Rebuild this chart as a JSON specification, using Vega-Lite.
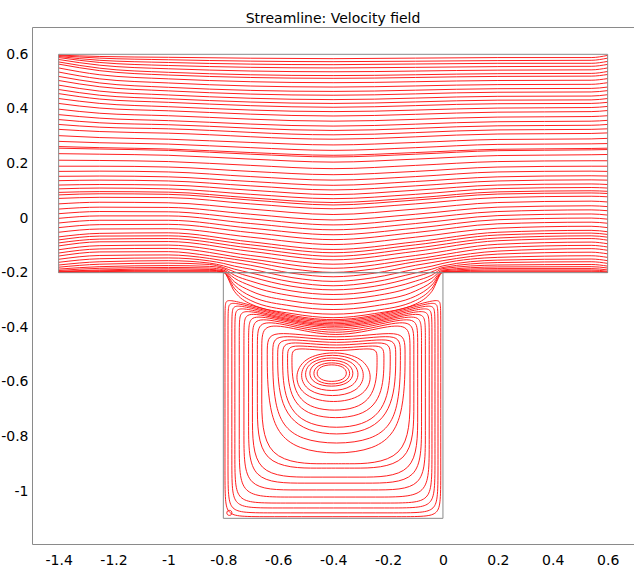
{
"$schema": "https://vega.github.io/schema/vega-lite/v6.json",
"width": 602, "height": 517,
"autosize": "none",
"padding": {"left": 32, "top": 27, "right": 0, "bottom": 26},
"background": "white",
"config": {"view": {"stroke": "#8a8a8a", "strokeWidth": 1}, "font": "DejaVu Sans"},
"title": {"text": "Streamline: Velocity field", "font": "DejaVu Sans", "fontSize": 14, "fontWeight": "normal", "color": "#000000", "anchor": "middle", "baseline": "alphabetic", "offset": 5, "dy": 15},
"datasets": {
"ch": [
{"s":1,"x":-1.4,"y":0.597},{"s":1,"x":-1.25,"y":0.592},{"s":1,"x":-1,"y":0.589},{"s":1,"x":-0.4,"y":0.584},{"s":1,"x":0.2,"y":0.588},{"s":1,"x":0.54,"y":0.588},{"s":1,"x":0.6,"y":0.596},
{"s":2,"x":-1.4,"y":0.595},{"s":2,"x":-1.25,"y":0.586},{"s":2,"x":-1,"y":0.58},{"s":2,"x":-0.4,"y":0.573},{"s":2,"x":0.2,"y":0.577},{"s":2,"x":0.54,"y":0.578},{"s":2,"x":0.6,"y":0.586},
{"s":3,"x":-1.4,"y":0.592},{"s":3,"x":-1.25,"y":0.578},{"s":3,"x":-1,"y":0.57},{"s":3,"x":-0.4,"y":0.562},{"s":3,"x":0.2,"y":0.567},{"s":3,"x":0.54,"y":0.567},{"s":3,"x":0.6,"y":0.574},
{"s":4,"x":-1.4,"y":0.588},{"s":4,"x":-1.25,"y":0.57},{"s":4,"x":-1,"y":0.559},{"s":4,"x":-0.4,"y":0.55},{"s":4,"x":0.2,"y":0.555},{"s":4,"x":0.54,"y":0.556},{"s":4,"x":0.6,"y":0.563},
{"s":5,"x":-1.4,"y":0.581},{"s":5,"x":-1.25,"y":0.56},{"s":5,"x":-1,"y":0.547},{"s":5,"x":-0.4,"y":0.536},{"s":5,"x":0.2,"y":0.542},{"s":5,"x":0.54,"y":0.543},{"s":5,"x":0.6,"y":0.55},
{"s":6,"x":-1.4,"y":0.572},{"s":6,"x":-1.25,"y":0.549},{"s":6,"x":-1,"y":0.534},{"s":6,"x":-0.4,"y":0.522},{"s":6,"x":0.2,"y":0.529},{"s":6,"x":0.54,"y":0.53},{"s":6,"x":0.6,"y":0.537},
{"s":7,"x":-1.4,"y":0.564},{"s":7,"x":-1.25,"y":0.54},{"s":7,"x":-1,"y":0.524},{"s":7,"x":-0.4,"y":0.512},{"s":7,"x":0.2,"y":0.519},{"s":7,"x":0.54,"y":0.52},{"s":7,"x":0.6,"y":0.526},
{"s":8,"x":-1.4,"y":0.55},{"s":8,"x":-1.25,"y":0.525},{"s":8,"x":-1,"y":0.51},{"s":8,"x":-0.4,"y":0.496},{"s":8,"x":0.2,"y":0.504},{"s":8,"x":0.54,"y":0.505},{"s":8,"x":0.6,"y":0.511},
{"s":9,"x":-1.4,"y":0.535},{"s":9,"x":-1.25,"y":0.51},{"s":9,"x":-1,"y":0.495},{"s":9,"x":-0.4,"y":0.48},{"s":9,"x":0.2,"y":0.489},{"s":9,"x":0.54,"y":0.49},{"s":9,"x":0.6,"y":0.496},
{"s":10,"x":-1.4,"y":0.519},{"s":10,"x":-1.25,"y":0.495},{"s":10,"x":-1,"y":0.479},{"s":10,"x":-0.4,"y":0.464},{"s":10,"x":0.2,"y":0.474},{"s":10,"x":0.54,"y":0.475},{"s":10,"x":0.6,"y":0.48},
{"s":11,"x":-1.4,"y":0.504},{"s":11,"x":-1.25,"y":0.481},{"s":11,"x":-1,"y":0.466},{"s":11,"x":-0.4,"y":0.45},{"s":11,"x":0.2,"y":0.461},{"s":11,"x":0.54,"y":0.462},{"s":11,"x":0.6,"y":0.467},
{"s":12,"x":-1.4,"y":0.487},{"s":12,"x":-1.25,"y":0.465},{"s":12,"x":-1,"y":0.451},{"s":12,"x":-0.4,"y":0.434},{"s":12,"x":0.2,"y":0.446},{"s":12,"x":0.54,"y":0.447},{"s":12,"x":0.6,"y":0.452},
{"s":13,"x":-1.4,"y":0.471},{"s":13,"x":-1.25,"y":0.45},{"s":13,"x":-1,"y":0.437},{"s":13,"x":-0.4,"y":0.42},{"s":13,"x":0.2,"y":0.432},{"s":13,"x":0.54,"y":0.433},{"s":13,"x":0.6,"y":0.438},
{"s":14,"x":-1.4,"y":0.456},{"s":14,"x":-1.25,"y":0.436},{"s":14,"x":-1,"y":0.424},{"s":14,"x":-0.4,"y":0.406},{"s":14,"x":0.2,"y":0.419},{"s":14,"x":0.54,"y":0.42},{"s":14,"x":0.6,"y":0.424},
{"s":15,"x":-1.4,"y":0.438},{"s":15,"x":-1.25,"y":0.42},{"s":15,"x":-1,"y":0.408},{"s":15,"x":-0.4,"y":0.39},{"s":15,"x":0.2,"y":0.403},{"s":15,"x":0.54,"y":0.405},{"s":15,"x":0.6,"y":0.409},
{"s":16,"x":-1.4,"y":0.42},{"s":16,"x":-1.25,"y":0.403},{"s":16,"x":-1,"y":0.393},{"s":16,"x":-0.4,"y":0.374},{"s":16,"x":0.2,"y":0.388},{"s":16,"x":0.54,"y":0.39},{"s":16,"x":0.6,"y":0.394},
{"s":17,"x":-1.4,"y":0.399},{"s":17,"x":-1.25,"y":0.384},{"s":17,"x":-1,"y":0.375},{"s":17,"x":-0.4,"y":0.355},{"s":17,"x":0.2,"y":0.37},{"s":17,"x":0.54,"y":0.372},{"s":17,"x":0.6,"y":0.375},
{"s":18,"x":-1.4,"y":0.379},{"s":18,"x":-1.25,"y":0.366},{"s":18,"x":-1,"y":0.357},{"s":18,"x":-0.4,"y":0.337},{"s":18,"x":0.2,"y":0.353},{"s":18,"x":0.54,"y":0.355},{"s":18,"x":0.6,"y":0.358},
{"s":19,"x":-1.4,"y":0.361},{"s":19,"x":-1.25,"y":0.349},{"s":19,"x":-1,"y":0.342},{"s":19,"x":-0.4,"y":0.321},{"s":19,"x":0.2,"y":0.338},{"s":19,"x":0.54,"y":0.34},{"s":19,"x":0.6,"y":0.343},
{"s":20,"x":-1.4,"y":0.343},{"s":20,"x":-1.25,"y":0.333},{"s":20,"x":-1,"y":0.327},{"s":20,"x":-0.4,"y":0.305},{"s":20,"x":0.2,"y":0.323},{"s":20,"x":0.54,"y":0.325},{"s":20,"x":0.6,"y":0.327},
{"s":21,"x":-1.4,"y":0.325},{"s":21,"x":-1.25,"y":0.317},{"s":21,"x":-1,"y":0.311},{"s":21,"x":-0.4,"y":0.289},{"s":21,"x":0.2,"y":0.308},{"s":21,"x":0.54,"y":0.31},{"s":21,"x":0.6,"y":0.312},
{"s":22,"x":-1.4,"y":0.302},{"s":22,"x":-1.25,"y":0.295},{"s":22,"x":-1,"y":0.289},{"s":22,"x":-0.7,"y":0.277},{"s":22,"x":-0.4,"y":0.268},{"s":22,"x":-0.1,"y":0.277},{"s":22,"x":0.2,"y":0.288},{"s":22,"x":0.54,"y":0.29},{"s":22,"x":0.6,"y":0.292},
{"s":23,"x":-1.4,"y":0.281},{"s":23,"x":-1.25,"y":0.276},{"s":23,"x":-1,"y":0.271},{"s":23,"x":-0.7,"y":0.258},{"s":23,"x":-0.4,"y":0.248},{"s":23,"x":-0.1,"y":0.258},{"s":23,"x":0.2,"y":0.27},{"s":23,"x":0.54,"y":0.272},{"s":23,"x":0.6,"y":0.273},
{"s":24,"x":-1.4,"y":0.262},{"s":24,"x":-1.25,"y":0.258},{"s":24,"x":-1,"y":0.253},{"s":24,"x":-0.7,"y":0.24},{"s":24,"x":-0.4,"y":0.23},{"s":24,"x":-0.1,"y":0.24},{"s":24,"x":0.2,"y":0.252},{"s":24,"x":0.54,"y":0.255},{"s":24,"x":0.6,"y":0.256},
{"s":25,"x":-1.4,"y":0.256},{"s":25,"x":-1.25,"y":0.253},{"s":25,"x":-1,"y":0.248},{"s":25,"x":-0.7,"y":0.234},{"s":25,"x":-0.4,"y":0.224},{"s":25,"x":-0.1,"y":0.234},{"s":25,"x":0.2,"y":0.247},{"s":25,"x":0.54,"y":0.25},{"s":25,"x":0.6,"y":0.251},
{"s":26,"x":-1.4,"y":0.236},{"s":26,"x":-1.25,"y":0.234},{"s":26,"x":-1,"y":0.23},{"s":26,"x":-0.7,"y":0.216},{"s":26,"x":-0.4,"y":0.205},{"s":26,"x":-0.1,"y":0.216},{"s":26,"x":0.2,"y":0.229},{"s":26,"x":0.54,"y":0.232},{"s":26,"x":0.6,"y":0.233},
{"s":27,"x":-1.4,"y":0.212},{"s":27,"x":-1.25,"y":0.211},{"s":27,"x":-1,"y":0.207},{"s":27,"x":-0.7,"y":0.193},{"s":27,"x":-0.4,"y":0.181},{"s":27,"x":-0.1,"y":0.193},{"s":27,"x":0.2,"y":0.207},{"s":27,"x":0.54,"y":0.21},{"s":27,"x":0.6,"y":0.21},
{"s":28,"x":-1.4,"y":0.19},{"s":28,"x":-1.25,"y":0.19},{"s":28,"x":-1,"y":0.187},{"s":28,"x":-0.7,"y":0.171},{"s":28,"x":-0.4,"y":0.159},{"s":28,"x":-0.1,"y":0.171},{"s":28,"x":0.2,"y":0.187},{"s":28,"x":0.54,"y":0.19},{"s":28,"x":0.6,"y":0.19},
{"s":29,"x":-1.4,"y":0.171},{"s":29,"x":-1.25,"y":0.172},{"s":29,"x":-1,"y":0.169},{"s":29,"x":-0.7,"y":0.152},{"s":29,"x":-0.4,"y":0.139},{"s":29,"x":-0.1,"y":0.152},{"s":29,"x":0.2,"y":0.169},{"s":29,"x":0.54,"y":0.172},{"s":29,"x":0.6,"y":0.171},
{"s":30,"x":-1.4,"y":0.153},{"s":30,"x":-1.25,"y":0.154},{"s":30,"x":-1,"y":0.151},{"s":30,"x":-0.7,"y":0.134},{"s":30,"x":-0.4,"y":0.12},{"s":30,"x":-0.1,"y":0.134},{"s":30,"x":0.2,"y":0.151},{"s":30,"x":0.54,"y":0.155},{"s":30,"x":0.6,"y":0.154},
{"s":31,"x":-1.4,"y":0.137},{"s":31,"x":-1.25,"y":0.139},{"s":31,"x":-1,"y":0.136},{"s":31,"x":-0.7,"y":0.118},{"s":31,"x":-0.4,"y":0.103},{"s":31,"x":-0.1,"y":0.118},{"s":31,"x":0.2,"y":0.136},{"s":31,"x":0.54,"y":0.14},{"s":31,"x":0.6,"y":0.139},
{"s":32,"x":-1.4,"y":0.121},{"s":32,"x":-1.25,"y":0.123},{"s":32,"x":-1,"y":0.121},{"s":32,"x":-0.7,"y":0.102},{"s":32,"x":-0.4,"y":0.086},{"s":32,"x":-0.1,"y":0.102},{"s":32,"x":0.2,"y":0.121},{"s":32,"x":0.54,"y":0.125},{"s":32,"x":0.6,"y":0.123},
{"s":33,"x":-1.4,"y":0.107},{"s":33,"x":-1.25,"y":0.11},{"s":33,"x":-1,"y":0.107},{"s":33,"x":-0.7,"y":0.087},{"s":33,"x":-0.4,"y":0.071},{"s":33,"x":-0.1,"y":0.087},{"s":33,"x":0.2,"y":0.108},{"s":33,"x":0.54,"y":0.112},{"s":33,"x":0.6,"y":0.11},
{"s":34,"x":-1.4,"y":0.094},{"s":34,"x":-1.25,"y":0.097},{"s":34,"x":-1,"y":0.095},{"s":34,"x":-0.7,"y":0.074},{"s":34,"x":-0.4,"y":0.057},{"s":34,"x":-0.1,"y":0.074},{"s":34,"x":0.2,"y":0.096},{"s":34,"x":0.54,"y":0.1},{"s":34,"x":0.6,"y":0.098},
{"s":35,"x":-1.4,"y":0.085},{"s":35,"x":-1.25,"y":0.089},{"s":35,"x":-1,"y":0.087},{"s":35,"x":-0.7,"y":0.066},{"s":35,"x":-0.4,"y":0.048},{"s":35,"x":-0.1,"y":0.066},{"s":35,"x":0.2,"y":0.088},{"s":35,"x":0.54,"y":0.092},{"s":35,"x":0.6,"y":0.09},
{"s":36,"x":-1.4,"y":0.072},{"s":36,"x":-1.25,"y":0.076},{"s":36,"x":-1,"y":0.075},{"s":36,"x":-0.7,"y":0.052},{"s":36,"x":-0.4,"y":0.034},{"s":36,"x":-0.1,"y":0.052},{"s":36,"x":0.2,"y":0.075},{"s":36,"x":0.54,"y":0.08},{"s":36,"x":0.6,"y":0.078},
{"s":37,"x":-1.4,"y":0.052},{"s":37,"x":-1.25,"y":0.058},{"s":37,"x":-1,"y":0.056},{"s":37,"x":-0.7,"y":0.033},{"s":37,"x":-0.4,"y":0.013},{"s":37,"x":-0.1,"y":0.033},{"s":37,"x":0.2,"y":0.057},{"s":37,"x":0.54,"y":0.062},{"s":37,"x":0.6,"y":0.059},
{"s":38,"x":-1.4,"y":0.033},{"s":38,"x":-1.25,"y":0.04},{"s":38,"x":-1,"y":0.039},{"s":38,"x":-0.7,"y":0.014},{"s":38,"x":-0.4,"y":-0.007},{"s":38,"x":-0.1,"y":0.014},{"s":38,"x":0.2,"y":0.04},{"s":38,"x":0.54,"y":0.045},{"s":38,"x":0.6,"y":0.042},
{"s":39,"x":-1.4,"y":0.016},{"s":39,"x":-1.25,"y":0.024},{"s":39,"x":-1,"y":0.023},{"s":39,"x":-0.7,"y":-0.003},{"s":39,"x":-0.4,"y":-0.025},{"s":39,"x":-0.1,"y":-0.003},{"s":39,"x":0.2,"y":0.024},{"s":39,"x":0.54,"y":0.03},{"s":39,"x":0.6,"y":0.027},
{"s":40,"x":-1.4,"y":-0.001},{"s":40,"x":-1.25,"y":0.008},{"s":40,"x":-1,"y":0.008},{"s":40,"x":-0.7,"y":-0.02},{"s":40,"x":-0.4,"y":-0.043},{"s":40,"x":-0.1,"y":-0.02},{"s":40,"x":0.2,"y":0.009},{"s":40,"x":0.54,"y":0.015},{"s":40,"x":0.6,"y":0.011},
{"s":41,"x":-1.4,"y":-0.018},{"s":41,"x":-1.25,"y":-0.008},{"s":41,"x":-1,"y":-0.008},{"s":41,"x":-0.7,"y":-0.037},{"s":41,"x":-0.4,"y":-0.061},{"s":41,"x":-0.1,"y":-0.037},{"s":41,"x":0.2,"y":-0.006},{"s":41,"x":0.54,"y":0},{"s":41,"x":0.6,"y":-0.004},
{"s":42,"x":-1.4,"y":-0.035},{"s":42,"x":-1.25,"y":-0.024},{"s":42,"x":-1,"y":-0.023},{"s":42,"x":-0.7,"y":-0.053},{"s":42,"x":-0.4,"y":-0.079},{"s":42,"x":-0.1,"y":-0.053},{"s":42,"x":0.2,"y":-0.021},{"s":42,"x":0.54,"y":-0.015},{"s":42,"x":0.6,"y":-0.019},
{"s":43,"x":-1.4,"y":-0.052},{"s":43,"x":-1.25,"y":-0.04},{"s":43,"x":-1,"y":-0.039},{"s":43,"x":-0.7,"y":-0.07},{"s":43,"x":-0.4,"y":-0.097},{"s":43,"x":-0.1,"y":-0.07},{"s":43,"x":0.2,"y":-0.037},{"s":43,"x":0.54,"y":-0.03},{"s":43,"x":0.6,"y":-0.035},
{"s":44,"x":-1.4,"y":-0.069},{"s":44,"x":-1.25,"y":-0.056},{"s":44,"x":-1,"y":-0.054},{"s":44,"x":-0.7,"y":-0.087},{"s":44,"x":-0.4,"y":-0.115},{"s":44,"x":-0.1,"y":-0.087},{"s":44,"x":0.2,"y":-0.052},{"s":44,"x":0.54,"y":-0.045},{"s":44,"x":0.6,"y":-0.05},
{"s":45,"x":-1.4,"y":-0.08},{"s":45,"x":-1.25,"y":-0.066},{"s":45,"x":-1,"y":-0.065},{"s":45,"x":-0.7,"y":-0.098},{"s":45,"x":-0.4,"y":-0.127},{"s":45,"x":-0.1,"y":-0.098},{"s":45,"x":0.2,"y":-0.062},{"s":45,"x":0.54,"y":-0.055},{"s":45,"x":0.6,"y":-0.06},
{"s":46,"x":-1.4,"y":-0.091},{"s":46,"x":-1.25,"y":-0.077},{"s":46,"x":-1,"y":-0.075},{"s":46,"x":-0.7,"y":-0.11},{"s":46,"x":-0.4,"y":-0.14},{"s":46,"x":-0.1,"y":-0.11},{"s":46,"x":0.2,"y":-0.073},{"s":46,"x":0.54,"y":-0.065},{"s":46,"x":0.6,"y":-0.07},
{"s":47,"x":-1.4,"y":-0.102},{"s":47,"x":-1.25,"y":-0.087},{"s":47,"x":-1,"y":-0.086},{"s":47,"x":-0.7,"y":-0.122},{"s":47,"x":-0.4,"y":-0.153},{"s":47,"x":-0.1,"y":-0.122},{"s":47,"x":0.2,"y":-0.083},{"s":47,"x":0.54,"y":-0.075},{"s":47,"x":0.6,"y":-0.081},
{"s":48,"x":-1.4,"y":-0.116},{"s":48,"x":-1.25,"y":-0.101},{"s":48,"x":-1,"y":-0.099},{"s":48,"x":-0.7,"y":-0.137},{"s":48,"x":-0.4,"y":-0.169},{"s":48,"x":-0.1,"y":-0.137},{"s":48,"x":0.2,"y":-0.096},{"s":48,"x":0.54,"y":-0.088},{"s":48,"x":0.6,"y":-0.094},
{"s":49,"x":-1.4,"y":-0.128},{"s":49,"x":-1.25,"y":-0.113},{"s":49,"x":-1,"y":-0.111},{"s":49,"x":-0.7,"y":-0.15},{"s":49,"x":-0.4,"y":-0.184},{"s":49,"x":-0.1,"y":-0.15},{"s":49,"x":0.2,"y":-0.108},{"s":49,"x":0.54,"y":-0.1},{"s":49,"x":0.6,"y":-0.106},
{"s":50,"x":-1.4,"y":-0.139},{"s":50,"x":-1.25,"y":-0.124},{"s":50,"x":-1,"y":-0.123},{"s":50,"x":-0.85,"y":-0.138},{"s":50,"x":-0.8,"y":-0.145},{"s":50,"x":-0.76,"y":-0.151},{"s":50,"x":-0.7,"y":-0.16},{"s":50,"x":-0.55,"y":-0.186},{"s":50,"x":-0.4,"y":-0.199},{"s":50,"x":-0.25,"y":-0.186},{"s":50,"x":-0.1,"y":-0.16},{"s":50,"x":-0.04,"y":-0.151},{"s":50,"x":0,"y":-0.145},{"s":50,"x":0.2,"y":-0.121},{"s":50,"x":0.54,"y":-0.112},{"s":50,"x":0.6,"y":-0.118},
{"s":51,"x":-1.4,"y":-0.151},{"s":51,"x":-1.25,"y":-0.137},{"s":51,"x":-1,"y":-0.135},{"s":51,"x":-0.85,"y":-0.148},{"s":51,"x":-0.8,"y":-0.156},{"s":51,"x":-0.76,"y":-0.163},{"s":51,"x":-0.7,"y":-0.173},{"s":51,"x":-0.55,"y":-0.202},{"s":51,"x":-0.4,"y":-0.215},{"s":51,"x":-0.25,"y":-0.202},{"s":51,"x":-0.1,"y":-0.173},{"s":51,"x":-0.04,"y":-0.163},{"s":51,"x":0,"y":-0.156},{"s":51,"x":0.2,"y":-0.132},{"s":51,"x":0.54,"y":-0.125},{"s":51,"x":0.6,"y":-0.131},
{"s":52,"x":-1.4,"y":-0.162},{"s":52,"x":-1.25,"y":-0.149},{"s":52,"x":-1,"y":-0.146},{"s":52,"x":-0.85,"y":-0.157},{"s":52,"x":-0.8,"y":-0.166},{"s":52,"x":-0.76,"y":-0.176},{"s":52,"x":-0.7,"y":-0.187},{"s":52,"x":-0.55,"y":-0.218},{"s":52,"x":-0.4,"y":-0.232},{"s":52,"x":-0.25,"y":-0.218},{"s":52,"x":-0.1,"y":-0.187},{"s":52,"x":-0.04,"y":-0.176},{"s":52,"x":0,"y":-0.166},{"s":52,"x":0.2,"y":-0.144},{"s":52,"x":0.54,"y":-0.138},{"s":52,"x":0.6,"y":-0.144},
{"s":53,"x":-1.4,"y":-0.172},{"s":53,"x":-1.25,"y":-0.16},{"s":53,"x":-1,"y":-0.156},{"s":53,"x":-0.85,"y":-0.165},{"s":53,"x":-0.8,"y":-0.175},{"s":53,"x":-0.76,"y":-0.187},{"s":53,"x":-0.7,"y":-0.201},{"s":53,"x":-0.55,"y":-0.234},{"s":53,"x":-0.4,"y":-0.248},{"s":53,"x":-0.25,"y":-0.234},{"s":53,"x":-0.1,"y":-0.201},{"s":53,"x":-0.04,"y":-0.187},{"s":53,"x":0,"y":-0.175},{"s":53,"x":0.2,"y":-0.154},{"s":53,"x":0.54,"y":-0.15},{"s":53,"x":0.6,"y":-0.156},
{"s":54,"x":-1.4,"y":-0.18},{"s":54,"x":-1.25,"y":-0.169},{"s":54,"x":-1,"y":-0.165},{"s":54,"x":-0.85,"y":-0.17},{"s":54,"x":-0.8,"y":-0.181},{"s":54,"x":-0.76,"y":-0.197},{"s":54,"x":-0.7,"y":-0.215},{"s":54,"x":-0.55,"y":-0.25},{"s":54,"x":-0.4,"y":-0.263},{"s":54,"x":-0.25,"y":-0.25},{"s":54,"x":-0.1,"y":-0.215},{"s":54,"x":-0.04,"y":-0.197},{"s":54,"x":0,"y":-0.181},{"s":54,"x":0.2,"y":-0.163},{"s":54,"x":0.54,"y":-0.16},{"s":54,"x":0.6,"y":-0.166},
{"s":55,"x":-1.4,"y":-0.187},{"s":55,"x":-1.25,"y":-0.178},{"s":55,"x":-1,"y":-0.174},{"s":55,"x":-0.85,"y":-0.177},{"s":55,"x":-0.8,"y":-0.185},{"s":55,"x":-0.76,"y":-0.209},{"s":55,"x":-0.7,"y":-0.231},{"s":55,"x":-0.55,"y":-0.267},{"s":55,"x":-0.4,"y":-0.28},{"s":55,"x":-0.25,"y":-0.267},{"s":55,"x":-0.1,"y":-0.231},{"s":55,"x":-0.04,"y":-0.209},{"s":55,"x":0,"y":-0.185},{"s":55,"x":0.2,"y":-0.172},{"s":55,"x":0.54,"y":-0.17},{"s":55,"x":0.6,"y":-0.176},
{"s":56,"x":-1.4,"y":-0.192},{"s":56,"x":-1.25,"y":-0.184},{"s":56,"x":-1,"y":-0.181},{"s":56,"x":-0.85,"y":-0.183},{"s":56,"x":-0.8,"y":-0.19},{"s":56,"x":-0.76,"y":-0.22},{"s":56,"x":-0.7,"y":-0.248},{"s":56,"x":-0.55,"y":-0.285},{"s":56,"x":-0.4,"y":-0.298},{"s":56,"x":-0.25,"y":-0.285},{"s":56,"x":-0.1,"y":-0.248},{"s":56,"x":-0.04,"y":-0.22},{"s":56,"x":0,"y":-0.19},{"s":56,"x":0.2,"y":-0.179},{"s":56,"x":0.54,"y":-0.178},{"s":56,"x":0.6,"y":-0.183},
{"s":57,"x":-1.4,"y":-0.195},{"s":57,"x":-1.25,"y":-0.19},{"s":57,"x":-1,"y":-0.186},{"s":57,"x":-0.85,"y":-0.188},{"s":57,"x":-0.8,"y":-0.193},{"s":57,"x":-0.76,"y":-0.233},{"s":57,"x":-0.7,"y":-0.267},{"s":57,"x":-0.55,"y":-0.304},{"s":57,"x":-0.4,"y":-0.317},{"s":57,"x":-0.25,"y":-0.304},{"s":57,"x":-0.1,"y":-0.267},{"s":57,"x":-0.04,"y":-0.233},{"s":57,"x":0,"y":-0.193},{"s":57,"x":0.2,"y":-0.185},{"s":57,"x":0.54,"y":-0.185},{"s":57,"x":0.6,"y":-0.19},
{"s":58,"x":-1.4,"y":-0.197},{"s":58,"x":-1.25,"y":-0.193},{"s":58,"x":-1,"y":-0.191},{"s":58,"x":-0.85,"y":-0.191},{"s":58,"x":-0.8,"y":-0.196},{"s":58,"x":-0.76,"y":-0.245},{"s":58,"x":-0.7,"y":-0.286},{"s":58,"x":-0.55,"y":-0.322},{"s":58,"x":-0.4,"y":-0.335},{"s":58,"x":-0.25,"y":-0.322},{"s":58,"x":-0.1,"y":-0.286},{"s":58,"x":-0.04,"y":-0.245},{"s":58,"x":0,"y":-0.196},{"s":58,"x":0.2,"y":-0.19},{"s":58,"x":0.54,"y":-0.19},{"s":58,"x":0.6,"y":-0.195},
{"s":59,"x":-1.4,"y":-0.198},{"s":59,"x":-1.25,"y":-0.196},{"s":59,"x":-1,"y":-0.194},{"s":59,"x":-0.85,"y":-0.194},{"s":59,"x":-0.8,"y":-0.197},{"s":59,"x":-0.76,"y":-0.257},{"s":59,"x":-0.7,"y":-0.302},{"s":59,"x":-0.55,"y":-0.339},{"s":59,"x":-0.4,"y":-0.352},{"s":59,"x":-0.25,"y":-0.339},{"s":59,"x":-0.1,"y":-0.302},{"s":59,"x":-0.04,"y":-0.257},{"s":59,"x":0,"y":-0.197},{"s":59,"x":0.2,"y":-0.194},{"s":59,"x":0.54,"y":-0.194},{"s":59,"x":0.6,"y":-0.198},
{"s":60,"x":-1.4,"y":-0.199},{"s":60,"x":-1.25,"y":-0.198},{"s":60,"x":-1,"y":-0.197},{"s":60,"x":-0.85,"y":-0.197},{"s":60,"x":-0.8,"y":-0.199},{"s":60,"x":-0.76,"y":-0.268},{"s":60,"x":-0.7,"y":-0.315},{"s":60,"x":-0.55,"y":-0.35},{"s":60,"x":-0.4,"y":-0.365},{"s":60,"x":-0.25,"y":-0.35},{"s":60,"x":-0.1,"y":-0.315},{"s":60,"x":-0.04,"y":-0.268},{"s":60,"x":0,"y":-0.199},{"s":60,"x":0.2,"y":-0.197},{"s":60,"x":0.54,"y":-0.197},{"s":60,"x":0.6,"y":-0.199}
],
"cv": [
{"s":1,"i":1,"x":-0.401,"y":-0.408},{"s":1,"i":2,"x":-0.759,"y":-0.3},{"s":1,"i":3,"x":-0.794,"y":-0.3},{"s":1,"i":4,"x":-0.794,"y":-0.335},{"s":1,"i":5,"x":-0.794,"y":-0.994},{"s":1,"i":6,"x":-0.794,"y":-1.094},{"s":1,"i":7,"x":-0.694,"y":-1.094},{"s":1,"i":8,"x":-0.108,"y":-1.094},{"s":1,"i":9,"x":-0.008,"y":-1.094},{"s":1,"i":10,"x":-0.008,"y":-0.994},{"s":1,"i":11,"x":-0.008,"y":-0.335},{"s":1,"i":12,"x":-0.008,"y":-0.3},{"s":1,"i":13,"x":-0.043,"y":-0.3},
{"s":2,"i":1,"x":-0.4,"y":-0.41},{"s":2,"i":2,"x":-0.743,"y":-0.31},{"s":2,"i":3,"x":-0.783,"y":-0.31},{"s":2,"i":4,"x":-0.783,"y":-0.35},{"s":2,"i":5,"x":-0.783,"y":-0.97},{"s":2,"i":6,"x":-0.783,"y":-1.08},{"s":2,"i":7,"x":-0.673,"y":-1.08},{"s":2,"i":8,"x":-0.128,"y":-1.08},{"s":2,"i":9,"x":-0.018,"y":-1.08},{"s":2,"i":10,"x":-0.018,"y":-0.97},{"s":2,"i":11,"x":-0.018,"y":-0.35},{"s":2,"i":12,"x":-0.018,"y":-0.31},{"s":2,"i":13,"x":-0.058,"y":-0.31},
{"s":3,"i":1,"x":-0.399,"y":-0.413},{"s":3,"i":2,"x":-0.724,"y":-0.32},{"s":3,"i":3,"x":-0.769,"y":-0.32},{"s":3,"i":4,"x":-0.769,"y":-0.365},{"s":3,"i":5,"x":-0.769,"y":-0.942},{"s":3,"i":6,"x":-0.769,"y":-1.062},{"s":3,"i":7,"x":-0.649,"y":-1.062},{"s":3,"i":8,"x":-0.149,"y":-1.062},{"s":3,"i":9,"x":-0.029,"y":-1.062},{"s":3,"i":10,"x":-0.029,"y":-0.942},{"s":3,"i":11,"x":-0.029,"y":-0.365},{"s":3,"i":12,"x":-0.029,"y":-0.32},{"s":3,"i":13,"x":-0.074,"y":-0.32},
{"s":4,"i":1,"x":-0.399,"y":-0.416},{"s":4,"i":2,"x":-0.708,"y":-0.33},{"s":4,"i":3,"x":-0.758,"y":-0.33},{"s":4,"i":4,"x":-0.758,"y":-0.38},{"s":4,"i":5,"x":-0.758,"y":-0.914},{"s":4,"i":6,"x":-0.758,"y":-1.044},{"s":4,"i":7,"x":-0.628,"y":-1.044},{"s":4,"i":8,"x":-0.17,"y":-1.044},{"s":4,"i":9,"x":-0.04,"y":-1.044},{"s":4,"i":10,"x":-0.04,"y":-0.914},{"s":4,"i":11,"x":-0.04,"y":-0.38},{"s":4,"i":12,"x":-0.04,"y":-0.33},{"s":4,"i":13,"x":-0.09,"y":-0.33},
{"s":5,"i":1,"x":-0.396,"y":-0.418},{"s":5,"i":2,"x":-0.687,"y":-0.34},{"s":5,"i":3,"x":-0.742,"y":-0.34},{"s":5,"i":4,"x":-0.742,"y":-0.395},{"s":5,"i":5,"x":-0.742,"y":-0.862},{"s":5,"i":6,"x":-0.742,"y":-1.022},{"s":5,"i":7,"x":-0.582,"y":-1.022},{"s":5,"i":8,"x":-0.21,"y":-1.022},{"s":5,"i":9,"x":-0.05,"y":-1.022},{"s":5,"i":10,"x":-0.05,"y":-0.862},{"s":5,"i":11,"x":-0.05,"y":-0.395},{"s":5,"i":12,"x":-0.05,"y":-0.34},{"s":5,"i":13,"x":-0.105,"y":-0.34},
{"s":6,"i":1,"x":-0.395,"y":-0.42},{"s":6,"i":2,"x":-0.665,"y":-0.35},{"s":6,"i":3,"x":-0.725,"y":-0.35},{"s":6,"i":4,"x":-0.725,"y":-0.41},{"s":6,"i":5,"x":-0.725,"y":-0.816},{"s":6,"i":6,"x":-0.725,"y":-0.996},{"s":6,"i":7,"x":-0.545,"y":-0.996},{"s":6,"i":8,"x":-0.244,"y":-0.996},{"s":6,"i":9,"x":-0.064,"y":-0.996},{"s":6,"i":10,"x":-0.064,"y":-0.816},{"s":6,"i":11,"x":-0.064,"y":-0.41},{"s":6,"i":12,"x":-0.064,"y":-0.35},{"s":6,"i":13,"x":-0.124,"y":-0.35},
{"s":7,"i":1,"x":-0.393,"y":-0.424},{"s":7,"i":2,"x":-0.643,"y":-0.36},{"s":7,"i":3,"x":-0.708,"y":-0.36},{"s":7,"i":4,"x":-0.708,"y":-0.425},{"s":7,"i":5,"x":-0.708,"y":-0.771},{"s":7,"i":6,"x":-0.708,"y":-0.971},{"s":7,"i":7,"x":-0.508,"y":-0.971},{"s":7,"i":8,"x":-0.278,"y":-0.971},{"s":7,"i":9,"x":-0.078,"y":-0.971},{"s":7,"i":10,"x":-0.078,"y":-0.771},{"s":7,"i":11,"x":-0.078,"y":-0.425},{"s":7,"i":12,"x":-0.078,"y":-0.36},{"s":7,"i":13,"x":-0.143,"y":-0.36},
{"s":8,"i":1,"x":-0.393,"y":-0.43},{"s":8,"i":2,"x":-0.624,"y":-0.37},{"s":8,"i":3,"x":-0.694,"y":-0.37},{"s":8,"i":4,"x":-0.694,"y":-0.44},{"s":8,"i":5,"x":-0.694,"y":-0.729},{"s":8,"i":6,"x":-0.694,"y":-0.949},{"s":8,"i":7,"x":-0.474,"y":-0.949},{"s":8,"i":8,"x":-0.312,"y":-0.949},{"s":8,"i":9,"x":-0.092,"y":-0.949},{"s":8,"i":10,"x":-0.092,"y":-0.729},{"s":8,"i":11,"x":-0.092,"y":-0.44},{"s":8,"i":12,"x":-0.092,"y":-0.37},{"s":8,"i":13,"x":-0.162,"y":-0.37},
{"s":9,"i":1,"x":-0.391,"y":-0.437},{"s":9,"i":2,"x":-0.601,"y":-0.381},{"s":9,"i":3,"x":-0.676,"y":-0.381},{"s":9,"i":4,"x":-0.676,"y":-0.456},{"s":9,"i":5,"x":-0.676,"y":-0.676},{"s":9,"i":6,"x":-0.676,"y":-0.916},{"s":9,"i":7,"x":-0.436,"y":-0.916},{"s":9,"i":8,"x":-0.346,"y":-0.916},{"s":9,"i":9,"x":-0.106,"y":-0.916},{"s":9,"i":10,"x":-0.106,"y":-0.676},{"s":9,"i":11,"x":-0.106,"y":-0.456},{"s":9,"i":12,"x":-0.106,"y":-0.381},{"s":9,"i":13,"x":-0.181,"y":-0.381},
{"s":10,"i":1,"x":-0.39,"y":-0.443},{"s":10,"i":2,"x":-0.58,"y":-0.393},{"s":10,"i":3,"x":-0.66,"y":-0.393},{"s":10,"i":4,"x":-0.66,"y":-0.473},{"s":10,"i":5,"x":-0.66,"y":-0.64},{"s":10,"i":6,"x":-0.66,"y":-0.9},{"s":10,"i":7,"x":-0.4,"y":-0.9},{"s":10,"i":8,"x":-0.38,"y":-0.9},{"s":10,"i":9,"x":-0.12,"y":-0.9},{"s":10,"i":10,"x":-0.12,"y":-0.64},{"s":10,"i":11,"x":-0.12,"y":-0.473},{"s":10,"i":12,"x":-0.12,"y":-0.393},{"s":10,"i":13,"x":-0.2,"y":-0.393},
{"s":11,"i":1,"x":-0.389,"y":-0.45},{"s":11,"i":2,"x":-0.64,"y":-0.405},{"s":11,"i":3,"x":-0.64,"y":-0.473},{"s":11,"i":4,"x":-0.64,"y":-0.707},{"s":11,"i":5,"x":-0.565,"y":-0.867},{"s":11,"i":6,"x":-0.213,"y":-0.867},{"s":11,"i":7,"x":-0.138,"y":-0.707},{"s":11,"i":8,"x":-0.138,"y":-0.473},{"s":11,"i":9,"x":-0.138,"y":-0.405},
{"s":12,"i":1,"x":-0.388,"y":-0.459},{"s":12,"i":2,"x":-0.62,"y":-0.418},{"s":12,"i":3,"x":-0.62,"y":-0.479},{"s":12,"i":4,"x":-0.62,"y":-0.688},{"s":12,"i":5,"x":-0.55,"y":-0.83},{"s":12,"i":6,"x":-0.225,"y":-0.83},{"s":12,"i":7,"x":-0.155,"y":-0.688},{"s":12,"i":8,"x":-0.155,"y":-0.479},{"s":12,"i":9,"x":-0.155,"y":-0.418},
{"s":13,"i":1,"x":-0.387,"y":-0.467},{"s":13,"i":2,"x":-0.602,"y":-0.432},{"s":13,"i":3,"x":-0.602,"y":-0.486},{"s":13,"i":4,"x":-0.602,"y":-0.671},{"s":13,"i":5,"x":-0.516,"y":-0.796},{"s":13,"i":6,"x":-0.258,"y":-0.796},{"s":13,"i":7,"x":-0.172,"y":-0.671},{"s":13,"i":8,"x":-0.172,"y":-0.486},{"s":13,"i":9,"x":-0.172,"y":-0.432},
{"s":14,"i":1,"x":-0.388,"y":-0.475},{"s":14,"i":2,"x":-0.584,"y":-0.445},{"s":14,"i":3,"x":-0.584,"y":-0.493},{"s":14,"i":4,"x":-0.584,"y":-0.659},{"s":14,"i":5,"x":-0.506,"y":-0.771},{"s":14,"i":6,"x":-0.27,"y":-0.771},{"s":14,"i":7,"x":-0.192,"y":-0.659},{"s":14,"i":8,"x":-0.192,"y":-0.493},{"s":14,"i":9,"x":-0.192,"y":-0.445},
{"s":15,"i":1,"x":-0.39,"y":-0.484},{"s":15,"i":2,"x":-0.566,"y":-0.458},{"s":15,"i":3,"x":-0.566,"y":-0.499},{"s":15,"i":4,"x":-0.566,"y":-0.64},{"s":15,"i":5,"x":-0.496,"y":-0.735},{"s":15,"i":6,"x":-0.285,"y":-0.735},{"s":15,"i":7,"x":-0.215,"y":-0.64},{"s":15,"i":8,"x":-0.215,"y":-0.499},{"s":15,"i":9,"x":-0.215,"y":-0.458},
{"s":16,"i":1,"x":-0.395,"y":-0.493},{"s":16,"i":2,"x":-0.55,"y":-0.47},{"s":16,"i":3,"x":-0.55,"y":-0.505},{"s":16,"i":4,"x":-0.55,"y":-0.625},{"s":16,"i":5,"x":-0.488,"y":-0.707},{"s":16,"i":6,"x":-0.302,"y":-0.707},{"s":16,"i":7,"x":-0.24,"y":-0.625},{"s":16,"i":8,"x":-0.24,"y":-0.505},{"s":16,"i":9,"x":-0.24,"y":-0.47},
{"s":17,"i":1,"x":-0.544,"y":-0.486},{"s":17,"i":2,"x":-0.253,"y":-0.486},{"s":17,"i":3,"x":-0.253,"y":-0.68},{"s":17,"i":4,"x":-0.544,"y":-0.68},
{"s":18,"i":1,"x":-0.525,"y":-0.496},{"s":18,"i":2,"x":-0.28,"y":-0.496},{"s":18,"i":3,"x":-0.28,"y":-0.657},{"s":18,"i":4,"x":-0.525,"y":-0.657},
{"s":19,"i":1,"x":-0.509,"y":-0.507},{"s":19,"i":2,"x":-0.301,"y":-0.507},{"s":19,"i":3,"x":-0.301,"y":-0.637},{"s":19,"i":4,"x":-0.509,"y":-0.637},
{"s":20,"i":1,"x":-0.492,"y":-0.517},{"s":20,"i":2,"x":-0.321,"y":-0.517},{"s":20,"i":3,"x":-0.321,"y":-0.62},{"s":20,"i":4,"x":-0.492,"y":-0.62},
{"s":21,"i":1,"x":-0.476,"y":-0.527},{"s":21,"i":2,"x":-0.334,"y":-0.527},{"s":21,"i":3,"x":-0.334,"y":-0.611},{"s":21,"i":4,"x":-0.476,"y":-0.611},
{"s":22,"i":1,"x":-0.463,"y":-0.535},{"s":22,"i":2,"x":-0.347,"y":-0.535},{"s":22,"i":3,"x":-0.347,"y":-0.601},{"s":22,"i":4,"x":-0.463,"y":-0.601},
{"s":23,"i":1,"x":-0.788,"y":-1.07},{"s":23,"i":2,"x":-0.768,"y":-1.07},{"s":23,"i":3,"x":-0.768,"y":-1.09},{"s":23,"i":4,"x":-0.788,"y":-1.09}
],
"dm": [
{"g":1,"i":0,"x":-1.4,"y":0.6},{"g":1,"i":1,"x":0.6,"y":0.6},{"g":1,"i":2,"x":0.6,"y":-0.2},{"g":1,"i":3,"x":-1.4,"y":-0.2},{"g":1,"i":4,"x":-1.4,"y":0.6},
{"g":2,"i":0,"x":-0.8,"y":-0.2},{"g":2,"i":1,"x":0,"y":-0.2},{"g":2,"i":2,"x":0,"y":-1.1},{"g":2,"i":3,"x":-0.8,"y":-1.1},{"g":2,"i":4,"x":-0.8,"y":-0.2}
]
},
"encoding": {
"x": {"field": "x", "type": "quantitative", "scale": {"domain": [-1.497, 0.696], "nice": false, "zero": false},
 "axis": {"values": [-1.4,-1.2,-1,-0.8,-0.6,-0.4,-0.2,0,0.2,0.4,0.6], "labelExpr": "'' + datum.value", "ticks": false, "tickSize": 0, "domain": false, "grid": false, "title": null, "labelFont": "DejaVu Sans", "labelFontSize": 14, "labelColor": "#000000", "labelPadding": 9, "labelFlush": false, "labelOverlap": false}},
"y": {"field": "y", "type": "quantitative", "scale": {"domain": [-1.194, 0.7], "nice": false, "zero": false},
 "axis": {"values": [0.6,0.4,0.2,0,-0.2,-0.4,-0.6,-0.8,-1], "labelExpr": "'' + datum.value", "ticks": false, "tickSize": 0, "domain": false, "grid": false, "title": null, "labelFont": "DejaVu Sans", "labelFontSize": 14, "labelColor": "#000000", "labelPadding": 4, "labelFlush": false, "labelOverlap": false}}
},
"layer": [
{"data": {"name": "ch"}, "mark": {"type": "line", "interpolate": "monotone", "color": "#ff1414", "strokeWidth": 1, "opacity": 0.95}, "encoding": {"detail": {"field": "s", "type": "nominal"}}},
{"data": {"name": "cv"}, "mark": {"type": "line", "interpolate": "basis-closed", "color": "#ff1414", "strokeWidth": 1, "opacity": 0.95}, "encoding": {"detail": {"field": "s", "type": "nominal"}, "order": {"field": "i", "type": "quantitative"}}},
{"data": {"name": "dm"}, "mark": {"type": "line", "interpolate": "linear", "color": "#8a8a8a", "strokeWidth": 1}, "encoding": {"detail": {"field": "g", "type": "nominal"}, "order": {"field": "i", "type": "quantitative"}}}
]
}
